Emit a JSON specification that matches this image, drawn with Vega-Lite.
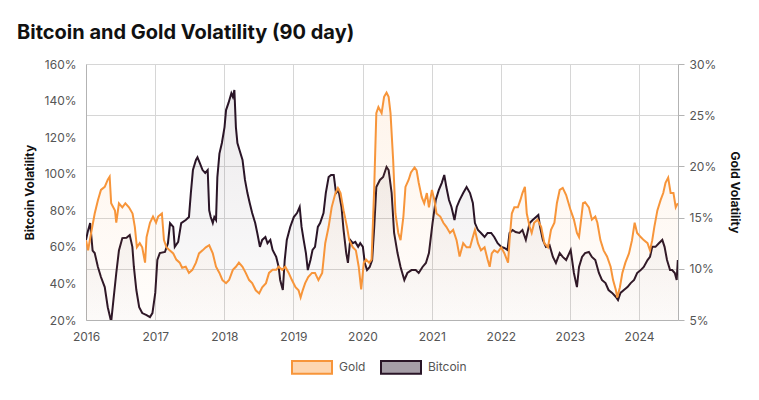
{
  "$schema": "https://vega.github.io/schema/vega-lite/v6.json",
  "width": 592,
  "height": 256,
  "autosize": "none",
  "padding": {"left": 86, "top": 64, "right": 81, "bottom": 80},
  "background": "white",
  "title": {"text": "Bitcoin and Gold Volatility (90 day)", "anchor": "start", "frame": "group", "dx": -69, "offset": 15, "fontSize": 20, "fontWeight": "bold", "color": "#111111", "font": "Inter"},
  "config": {
    "font": "Inter",
    "view": {"stroke": null},
    "axis": {"labelFont": "Inter", "labelFontSize": 12, "labelColor": "#555555", "titleFont": "Inter", "titleFontSize": 12, "titleFontWeight": "bold", "titleColor": "#111111", "gridColor": "#d6d6d6", "domainColor": "#b3b3b3", "tickColor": "#b3b3b3"}
  },
  "datasets": {
    "btc": [
      {"date":"2016-01-01","v":63.8},{"date":"2016-01-12","v":69},{"date":"2016-01-23","v":73},{"date":"2016-02-05","v":58},{"date":"2016-02-16","v":56.6},{"date":"2016-03-04","v":49},{"date":"2016-03-20","v":43.5},{"date":"2016-04-09","v":38},{"date":"2016-04-25","v":27},{"date":"2016-05-13","v":19},{"date":"2016-05-25","v":31},{"date":"2016-06-09","v":45.7},{"date":"2016-06-23","v":58},{"date":"2016-07-11","v":64.8},{"date":"2016-08-02","v":65},{"date":"2016-08-19","v":66.5},{"date":"2016-09-02","v":60},{"date":"2016-09-10","v":49},{"date":"2016-09-23","v":36.4},{"date":"2016-10-08","v":27},{"date":"2016-10-24","v":23.8},{"date":"2016-11-16","v":22.7},{"date":"2016-12-04","v":21.6},{"date":"2016-12-17","v":23.8},
      {"date":"2017-01-01","v":34.8},{"date":"2017-01-12","v":52.8},{"date":"2017-01-25","v":56.6},{"date":"2017-02-21","v":57.2},{"date":"2017-03-09","v":62},{"date":"2017-03-20","v":73},{"date":"2017-04-06","v":70.9},{"date":"2017-04-14","v":60},{"date":"2017-05-02","v":62.7},{"date":"2017-05-18","v":73},{"date":"2017-06-11","v":74.7},{"date":"2017-06-28","v":76.3},{"date":"2017-07-08","v":89.4},{"date":"2017-07-19","v":102},{"date":"2017-08-04","v":107.5},{"date":"2017-08-12","v":109},{"date":"2017-08-24","v":105.9},{"date":"2017-09-08","v":102},{"date":"2017-09-22","v":100.4},{"date":"2017-10-05","v":102},{"date":"2017-10-13","v":80},{"date":"2017-10-21","v":76.3},{"date":"2017-11-01","v":73},{"date":"2017-11-09","v":76.3},{"date":"2017-11-18","v":74.7},{"date":"2017-11-25","v":98},{"date":"2017-12-06","v":111},{"date":"2017-12-19","v":116.8},
      {"date":"2018-01-02","v":125.5},{"date":"2018-01-10","v":134.8},{"date":"2018-01-23","v":138.7},{"date":"2018-02-07","v":144},{"date":"2018-02-15","v":142},{"date":"2018-02-23","v":145.8},{"date":"2018-03-03","v":125.5},{"date":"2018-03-11","v":116.8},{"date":"2018-03-22","v":113},{"date":"2018-04-07","v":107.5},{"date":"2018-04-20","v":96.6},{"date":"2018-05-03","v":89.4},{"date":"2018-05-15","v":84},{"date":"2018-05-28","v":78.5},{"date":"2018-06-13","v":73},{"date":"2018-06-24","v":67.6},{"date":"2018-07-08","v":60},{"date":"2018-07-20","v":63.8},{"date":"2018-08-06","v":65.4},{"date":"2018-08-17","v":62},{"date":"2018-09-01","v":63.8},{"date":"2018-09-13","v":58.3},{"date":"2018-10-02","v":54.5},{"date":"2018-10-15","v":49},{"date":"2018-10-23","v":41.9},{"date":"2018-11-06","v":36.4},{"date":"2018-11-16","v":52.8},{"date":"2018-11-27","v":63.8},{"date":"2018-12-15","v":70.9},
      {"date":"2019-01-03","v":76.3},{"date":"2019-01-20","v":78.5},{"date":"2019-02-03","v":81.8},{"date":"2019-02-13","v":70.9},{"date":"2019-02-24","v":63.8},{"date":"2019-03-08","v":56.6},{"date":"2019-03-18","v":47.3},{"date":"2019-04-01","v":52.8},{"date":"2019-04-12","v":58.3},{"date":"2019-04-25","v":60},{"date":"2019-05-10","v":70.9},{"date":"2019-05-22","v":73},{"date":"2019-06-09","v":78.5},{"date":"2019-06-21","v":89.4},{"date":"2019-07-06","v":98.2},{"date":"2019-07-19","v":99.3},{"date":"2019-08-02","v":99.3},{"date":"2019-08-14","v":89.4},{"date":"2019-08-27","v":91},{"date":"2019-09-12","v":81.8},{"date":"2019-09-23","v":69.2},{"date":"2019-10-07","v":56.6},{"date":"2019-10-16","v":51.2},{"date":"2019-10-28","v":63.8},{"date":"2019-11-11","v":62},{"date":"2019-11-24","v":62.7},{"date":"2019-12-09","v":60},{"date":"2019-12-20","v":62},
      {"date":"2020-01-03","v":60},{"date":"2020-01-13","v":51.2},{"date":"2020-01-25","v":47.3},{"date":"2020-02-08","v":49},{"date":"2020-02-21","v":52.8},{"date":"2020-03-03","v":70.9},{"date":"2020-03-14","v":92.7},{"date":"2020-04-02","v":96.6},{"date":"2020-04-19","v":98.2},{"date":"2020-05-07","v":103.7},{"date":"2020-05-18","v":102},{"date":"2020-06-03","v":89.4},{"date":"2020-06-16","v":67.6},{"date":"2020-07-04","v":56.6},{"date":"2020-07-20","v":49},{"date":"2020-08-09","v":41.9},{"date":"2020-08-25","v":45.7},{"date":"2020-09-16","v":47.3},{"date":"2020-10-08","v":47.3},{"date":"2020-10-24","v":45.7},{"date":"2020-11-13","v":49},{"date":"2020-12-01","v":51.2},{"date":"2020-12-17","v":56.6},
      {"date":"2021-01-05","v":73},{"date":"2021-01-22","v":85.6},{"date":"2021-02-07","v":91},{"date":"2021-02-23","v":95},{"date":"2021-03-08","v":99.3},{"date":"2021-03-19","v":92.7},{"date":"2021-04-02","v":85.6},{"date":"2021-04-15","v":81.8},{"date":"2021-05-01","v":74.7},{"date":"2021-05-13","v":81.8},{"date":"2021-05-28","v":85.6},{"date":"2021-06-16","v":89.4},{"date":"2021-07-04","v":92.7},{"date":"2021-07-22","v":89.4},{"date":"2021-08-06","v":84},{"date":"2021-08-17","v":73},{"date":"2021-09-02","v":69.2},{"date":"2021-09-18","v":67.6},{"date":"2021-10-07","v":65.4},{"date":"2021-10-23","v":67.6},{"date":"2021-11-11","v":67.6},{"date":"2021-11-27","v":65.4},{"date":"2021-12-15","v":62},
      {"date":"2022-01-03","v":60},{"date":"2022-01-20","v":59.4},{"date":"2022-02-05","v":58.3},{"date":"2022-02-16","v":67.6},{"date":"2022-03-04","v":69.2},{"date":"2022-03-20","v":68.1},{"date":"2022-04-09","v":67.6},{"date":"2022-04-25","v":69.2},{"date":"2022-05-13","v":63.8},{"date":"2022-06-02","v":73},{"date":"2022-06-18","v":74.7},{"date":"2022-07-06","v":76.3},{"date":"2022-07-18","v":77.4},{"date":"2022-07-27","v":70.9},{"date":"2022-08-11","v":63.8},{"date":"2022-08-27","v":60},{"date":"2022-09-15","v":61},{"date":"2022-10-03","v":54.5},{"date":"2022-10-19","v":51.2},{"date":"2022-11-08","v":56.6},{"date":"2022-11-24","v":54.5},{"date":"2022-12-12","v":52.8},
      {"date":"2023-01-05","v":58.3},{"date":"2023-01-22","v":45.7},{"date":"2023-02-07","v":38},{"date":"2023-02-18","v":49},{"date":"2023-03-06","v":54.5},{"date":"2023-03-22","v":56.6},{"date":"2023-04-11","v":57.2},{"date":"2023-04-27","v":54.5},{"date":"2023-05-15","v":52.8},{"date":"2023-06-03","v":45.7},{"date":"2023-06-19","v":41.9},{"date":"2023-07-08","v":40.2},{"date":"2023-07-24","v":36.4},{"date":"2023-08-12","v":34.8},{"date":"2023-09-01","v":32.6},{"date":"2023-09-12","v":30.9},{"date":"2023-09-25","v":34.8},{"date":"2023-10-13","v":36.4},{"date":"2023-11-01","v":38},{"date":"2023-11-18","v":40.2},{"date":"2023-12-06","v":41.9},{"date":"2023-12-22","v":45.7},
      {"date":"2024-01-10","v":47.3},{"date":"2024-01-26","v":49},{"date":"2024-02-15","v":52.8},{"date":"2024-02-28","v":54.5},{"date":"2024-03-11","v":60},{"date":"2024-03-28","v":60},{"date":"2024-04-15","v":62},{"date":"2024-05-03","v":63.8},{"date":"2024-05-15","v":60},{"date":"2024-05-28","v":52.8},{"date":"2024-06-13","v":47.3},{"date":"2024-06-24","v":47.3},{"date":"2024-07-08","v":45.7},{"date":"2024-07-18","v":41.9},{"date":"2024-07-24","v":52.8}
    ],
    "gold": [
      {"date":"2016-01-01","v":12.8},{"date":"2016-01-12","v":11.8},{"date":"2016-01-28","v":13.5},{"date":"2016-02-16","v":15.4},{"date":"2016-03-04","v":16.7},{"date":"2016-03-20","v":17.7},{"date":"2016-04-09","v":18},{"date":"2016-04-25","v":18.7},{"date":"2016-05-05","v":19},{"date":"2016-05-13","v":16.4},{"date":"2016-06-02","v":15.7},{"date":"2016-06-09","v":14.5},{"date":"2016-06-23","v":16.4},{"date":"2016-07-11","v":16},{"date":"2016-07-27","v":16.4},{"date":"2016-08-15","v":16},{"date":"2016-09-03","v":15.4},{"date":"2016-09-15","v":14.1},{"date":"2016-09-26","v":12.1},{"date":"2016-10-11","v":12.5},{"date":"2016-10-24","v":12.1},{"date":"2016-11-08","v":10.6},{"date":"2016-11-16","v":13.1},{"date":"2016-12-04","v":14.5},{"date":"2016-12-20","v":15.1},
      {"date":"2017-01-05","v":14.5},{"date":"2017-01-16","v":15.1},{"date":"2017-02-05","v":15.4},{"date":"2017-02-16","v":12.8},{"date":"2017-03-01","v":12.1},{"date":"2017-03-18","v":11.8},{"date":"2017-04-06","v":11.5},{"date":"2017-04-22","v":10.9},{"date":"2017-05-10","v":10.6},{"date":"2017-05-23","v":10.1},{"date":"2017-06-11","v":10.2},{"date":"2017-06-28","v":9.6},{"date":"2017-07-16","v":9.9},{"date":"2017-08-04","v":10.6},{"date":"2017-08-20","v":11.5},{"date":"2017-09-08","v":11.8},{"date":"2017-09-25","v":12.1},{"date":"2017-10-13","v":12.3},{"date":"2017-11-01","v":11.5},{"date":"2017-11-18","v":10.2},{"date":"2017-12-06","v":9.6},{"date":"2017-12-22","v":8.9},
      {"date":"2018-01-10","v":8.6},{"date":"2018-01-26","v":8.9},{"date":"2018-02-15","v":9.9},{"date":"2018-03-03","v":10.2},{"date":"2018-03-19","v":10.6},{"date":"2018-04-07","v":10.2},{"date":"2018-04-24","v":9.6},{"date":"2018-05-12","v":8.9},{"date":"2018-05-28","v":8.6},{"date":"2018-06-16","v":7.9},{"date":"2018-07-04","v":7.6},{"date":"2018-07-20","v":8.2},{"date":"2018-08-09","v":8.6},{"date":"2018-08-25","v":9.6},{"date":"2018-09-13","v":9.9},{"date":"2018-10-02","v":9.9},{"date":"2018-10-15","v":10.2},{"date":"2018-11-03","v":9.9},{"date":"2018-11-19","v":10.2},{"date":"2018-12-07","v":9.6},{"date":"2018-12-24","v":8.9},
      {"date":"2019-01-12","v":8.2},{"date":"2019-01-28","v":7.9},{"date":"2019-02-08","v":7.2},{"date":"2019-02-19","v":7.9},{"date":"2019-03-04","v":8.6},{"date":"2019-03-20","v":9.2},{"date":"2019-04-09","v":9.6},{"date":"2019-04-25","v":9.6},{"date":"2019-05-13","v":8.9},{"date":"2019-06-02","v":9.6},{"date":"2019-06-18","v":12.5},{"date":"2019-07-06","v":14.1},{"date":"2019-07-22","v":16},{"date":"2019-08-11","v":17.4},{"date":"2019-08-24","v":17.9},{"date":"2019-09-07","v":17.4},{"date":"2019-09-23","v":15.7},{"date":"2019-10-11","v":14.1},{"date":"2019-10-23","v":12.8},{"date":"2019-11-11","v":12.1},{"date":"2019-11-27","v":11.8},{"date":"2019-12-12","v":10.2},{"date":"2019-12-25","v":8.0},
      {"date":"2020-01-08","v":10.6},{"date":"2020-01-20","v":10.9},{"date":"2020-02-05","v":10.6},{"date":"2020-02-18","v":10.9},{"date":"2020-03-03","v":18},{"date":"2020-03-14","v":25.2},{"date":"2020-03-25","v":25.8},{"date":"2020-04-11","v":25.2},{"date":"2020-04-24","v":26.8},{"date":"2020-05-07","v":27.2},{"date":"2020-05-18","v":26.8},{"date":"2020-05-28","v":25.2},{"date":"2020-06-11","v":20.6},{"date":"2020-06-23","v":15.4},{"date":"2020-07-08","v":13.5},{"date":"2020-07-20","v":12.8},{"date":"2020-08-04","v":15.1},{"date":"2020-08-15","v":18},{"date":"2020-09-01","v":18.7},{"date":"2020-09-13","v":19.4},{"date":"2020-10-02","v":19.9},{"date":"2020-10-13","v":19.6},{"date":"2020-10-24","v":18.4},{"date":"2020-11-09","v":17},{"date":"2020-11-22","v":16.4},{"date":"2020-12-06","v":17.4},{"date":"2020-12-17","v":16},
      {"date":"2021-01-02","v":17.7},{"date":"2021-01-15","v":16.7},{"date":"2021-01-26","v":15.4},{"date":"2021-02-15","v":15.1},{"date":"2021-03-03","v":14.5},{"date":"2021-03-19","v":14.1},{"date":"2021-04-07","v":13.5},{"date":"2021-04-24","v":13.8},{"date":"2021-05-12","v":12.8},{"date":"2021-05-28","v":11.2},{"date":"2021-06-16","v":12.5},{"date":"2021-07-04","v":12.1},{"date":"2021-07-22","v":12.1},{"date":"2021-08-06","v":13.1},{"date":"2021-08-17","v":13.8},{"date":"2021-09-02","v":12.5},{"date":"2021-09-18","v":11.8},{"date":"2021-10-07","v":12.1},{"date":"2021-10-23","v":10.9},{"date":"2021-11-03","v":10.2},{"date":"2021-11-14","v":11.5},{"date":"2021-11-27","v":11.8},{"date":"2021-12-15","v":11.6},
      {"date":"2022-01-03","v":12.1},{"date":"2022-01-20","v":11.5},{"date":"2022-02-08","v":10.6},{"date":"2022-02-16","v":12.8},{"date":"2022-02-28","v":15.4},{"date":"2022-03-13","v":16},{"date":"2022-04-01","v":16},{"date":"2022-04-14","v":16.7},{"date":"2022-04-25","v":17.4},{"date":"2022-05-08","v":18},{"date":"2022-05-18","v":15.4},{"date":"2022-06-02","v":14.1},{"date":"2022-06-13","v":13.5},{"date":"2022-06-26","v":14.5},{"date":"2022-07-14","v":14.8},{"date":"2022-08-02","v":14.1},{"date":"2022-08-19","v":12.5},{"date":"2022-09-07","v":12.1},{"date":"2022-09-23","v":13.8},{"date":"2022-10-11","v":14.5},{"date":"2022-10-24","v":16.4},{"date":"2022-11-08","v":17.7},{"date":"2022-11-24","v":17.9},{"date":"2022-12-12","v":17.2},
      {"date":"2023-01-05","v":15.7},{"date":"2023-01-22","v":14.8},{"date":"2023-02-07","v":13.5},{"date":"2023-02-18","v":13.1},{"date":"2023-03-01","v":14.8},{"date":"2023-03-11","v":16.4},{"date":"2023-03-22","v":16.5},{"date":"2023-04-11","v":16},{"date":"2023-04-27","v":14.8},{"date":"2023-05-15","v":15.1},{"date":"2023-05-26","v":14.5},{"date":"2023-06-11","v":12.8},{"date":"2023-06-28","v":11.8},{"date":"2023-07-16","v":11.2},{"date":"2023-08-04","v":10.2},{"date":"2023-08-17","v":8.9},{"date":"2023-09-01","v":7.9},{"date":"2023-09-08","v":7.2},{"date":"2023-09-22","v":8.2},{"date":"2023-10-05","v":9.6},{"date":"2023-10-21","v":10.6},{"date":"2023-11-09","v":11.5},{"date":"2023-11-25","v":12.8},{"date":"2023-12-09","v":14.5},{"date":"2023-12-22","v":13.5},
      {"date":"2024-01-10","v":13.1},{"date":"2024-01-26","v":12.8},{"date":"2024-02-15","v":12.5},{"date":"2024-02-28","v":11.8},{"date":"2024-03-11","v":12.8},{"date":"2024-03-22","v":14.1},{"date":"2024-04-07","v":15.7},{"date":"2024-04-24","v":16.7},{"date":"2024-05-08","v":17.4},{"date":"2024-05-20","v":18.4},{"date":"2024-06-03","v":18.9},{"date":"2024-06-16","v":17.4},{"date":"2024-07-01","v":17.4},{"date":"2024-07-13","v":16},{"date":"2024-07-24","v":16.4}
    ]
  },
  "encoding": {
    "x": {
      "field": "date", "type": "temporal",
      "scale": {"type": "utc", "domain": ["2016-01-01", "2024-07-25"], "nice": false},
      "axis": {"title": null, "grid": true, "ticks": false, "tickCount": {"interval": "year", "step": 1}, "labelExpr": "utcFormat(datum.value, '%Y')", "labelPadding": 11, "labelFlush": false}
    }
  },
  "layer": [
    {
      "data": {"name": "btc"},
      "encoding": {
        "y": {
          "field": "v", "type": "quantitative",
          "scale": {"domain": [20, 160], "nice": false, "zero": false},
          "axis": {"orient": "left", "values": [20, 40, 60, 80, 100, 120, 140, 160], "labelExpr": "datum.value + '%'", "grid": false, "ticks": false, "labelPadding": 10, "title": "Bitcoin Volatility", "titlePadding": 8}
        }
      },
      "layer": [
        {"mark": {"type": "area", "clip": true, "color": {"gradient": "linear", "x1": 0, "y1": 1, "x2": 0, "y2": 0, "stops": [{"offset": 0, "color": "rgba(42,21,39,0)"}, {"offset": 1, "color": "rgba(42,21,39,0.09)"}]}}},
        {"mark": {"type": "line", "clip": true, "strokeWidth": 2},
         "encoding": {"color": {"datum": "Bitcoin", "type": "nominal", "scale": {"domain": ["Gold", "Bitcoin"], "range": ["#f7953a", "#2a1527"]}}}}
      ]
    },
    {
      "data": {"name": "gold"},
      "encoding": {
        "y": {
          "field": "v", "type": "quantitative",
          "scale": {"domain": [5, 30], "nice": false, "zero": false},
          "axis": {"orient": "right", "values": [5, 10, 15, 20, 25, 30], "labelExpr": "datum.value + '%'", "grid": true, "ticks": true, "tickSize": 6, "labelPadding": 5, "title": "Gold Volatility", "titlePadding": 12}
        }
      },
      "layer": [
        {"mark": {"type": "area", "clip": true, "color": {"gradient": "linear", "x1": 0, "y1": 1, "x2": 0, "y2": 0, "stops": [{"offset": 0, "color": "rgba(247,149,58,0)"}, {"offset": 1, "color": "rgba(247,149,58,0.1)"}]}}},
        {"mark": {"type": "line", "clip": true, "strokeWidth": 2},
         "encoding": {"color": {"datum": "Gold", "type": "nominal",
           "legend": {"title": null, "orient": "none", "direction": "horizontal", "legendX": 205, "legendY": 282, "symbolType": "M-1,-0.32L1,-0.32L1,0.32L-1,0.32Z", "symbolSize": 1600, "symbolStrokeWidth": 2, "labelFont": "Inter", "labelFontSize": 12, "labelColor": "#555555", "labelOffset": 6, "columnPadding": 11,
             "encode": {"symbols": {"update": {"fill": {"signal": "datum.value == 'Gold' ? '#fdd6b1' : '#a69ea7'"}, "stroke": {"signal": "datum.value == 'Gold' ? '#f7953a' : '#2a1527'"}, "strokeWidth": {"value": 2}, "opacity": {"value": 1}}}}}}}}
      ]
    }
  ],
  "resolve": {"scale": {"y": "independent"}}
}
